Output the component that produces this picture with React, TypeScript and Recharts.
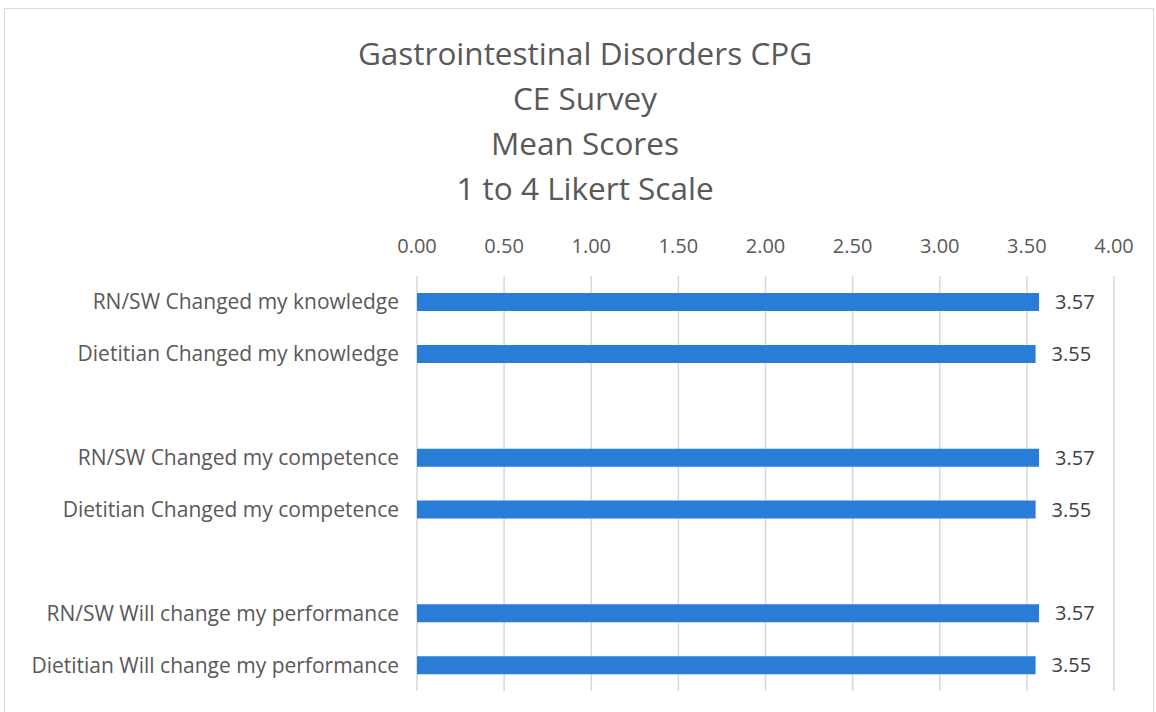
import React from 'react';
import { BarChart, Bar, XAxis, YAxis, CartesianGrid, LabelList } from 'recharts';

const categories = [
  'RN/SW Changed my knowledge',
  'Dietitian Changed my knowledge',
  ' ',
  'RN/SW Changed my competence',
  'Dietitian Changed my competence',
  '  ',
  'RN/SW Will change my performance',
  'Dietitian Will change my performance',
];
const meanScores: (number | null)[] = [3.57, 3.55, null, 3.57, 3.55, null, 3.57, 3.55];
const xTicks = [0, 0.5, 1, 1.5, 2, 2.5, 3, 3.5, 4];
const titleLines = ['Gastrointestinal Disorders CPG', 'CE Survey', 'Mean Scores', '1 to 4 Likert Scale'];

const data = categories.map((name, i) => ({ name, score: meanScores[i] }));

const FONT = '"Open Sans", Lato, sans-serif';

export default function App() {
  return (
    <div style={{ position: 'absolute', left: 0, top: 0, width: 1156, height: 712, background: '#fff', overflow: 'hidden', fontFamily: FONT }}>
      {/* chart frame */}
      <div style={{ position: 'absolute', left: 4, top: 8, width: 1148, height: 720, border: '1.5px solid #d9d9d9' }} />
      <div style={{ position: 'absolute', left: 285, top: 30, width: 600, textAlign: 'center', color: '#595959', fontSize: 31.5, lineHeight: '45px' }}>
        {titleLines.map((t) => (
          <div key={t}>{t}</div>
        ))}
      </div>
      <div style={{ position: 'absolute', left: 0, top: 0 }}>
        <BarChart width={1156} height={712} data={data} layout="vertical" margin={{ top: 231, right: 42, bottom: 21, left: 0 }} barCategoryGap={0}>
          <CartesianGrid horizontal={false} stroke="#d9d9d9" strokeWidth={1.5} />
          <XAxis
            type="number"
            orientation="top"
            domain={[0, 4]}
            ticks={xTicks}
            tickFormatter={(v: number) => v.toFixed(2)}
            axisLine={false}
            tickLine={false}
            tickSize={0}
            tickMargin={23}
            height={45}
            tick={{ fill: '#595959', fontSize: 20, fontFamily: FONT }}
          />
          <YAxis
            type="category"
            dataKey="name"
            width={417}
            axisLine={false}
            tickLine={false}
            tickSize={0}
            tickMargin={18}
            interval={0}
            tick={{ fill: '#595959', fontSize: 21, fontFamily: FONT }}
          />
          <Bar dataKey="score" fill="#2a7dd6" barSize={18} isAnimationActive={false}>
            <LabelList
              dataKey="score"
              position="right"
              offset={16}
              formatter={(v: any) => (v == null ? '' : Number(v).toFixed(2))}
              style={{ fill: '#404040', fontSize: 20, fontFamily: FONT }}
            />
          </Bar>
        </BarChart>
      </div>
    </div>
  );
}
